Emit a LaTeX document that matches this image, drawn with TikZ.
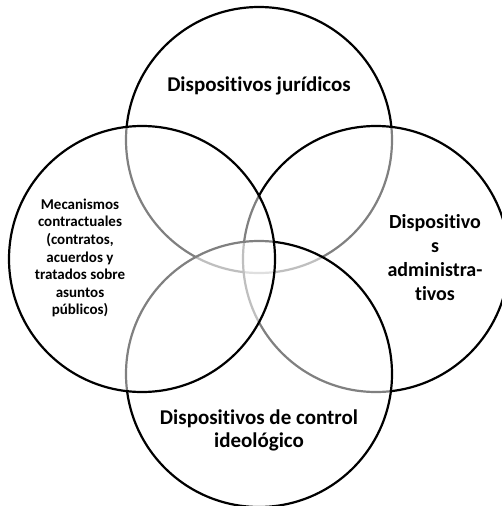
\documentclass[tikz,border=0pt]{standalone}
\usepackage{fontspec}
\setmainfont{Carlito}[Ligatures=NoCommon]
\begin{document}
\begin{tikzpicture}[x=1pt,y=-1pt,
  ring/.style={circle,draw=black,line width=2.2pt,fill=white,fill opacity=0.5,draw opacity=1,minimum size=266pt,inner sep=0pt},
  lbl/.style={align=center,font=\bfseries,text=black}]
\useasboundingbox (0,0) rectangle (502,506);
\node[ring] (top) at (259,140) {};
\node[ring] (right) at (376,259) {};
\node[ring] (bottom) at (259,374) {};
\node[ring] (left) at (142,259) {};
\node[lbl,font=\bfseries\fontsize{21}{23}\selectfont] (ttop) at (259,86) {Dispositivos jurídicos};
\node[lbl,font=\bfseries\fontsize{15}{17.6}\selectfont] (tleft) at (80,258) {Mecanismos\\contractuales\\(contratos,\\acuerdos y\\tratados sobre\\asuntos\\públicos)};
\node[lbl,font=\bfseries\fontsize{20}{24}\selectfont] (tright) at (435,258) {Dispositivo\\s\\administra-\\tivos};
\node[lbl,font=\bfseries\fontsize{21}{23}\selectfont] (tbottom) at (259,430) {Dispositivos de control\\ideológico};
\end{tikzpicture}
\end{document}
